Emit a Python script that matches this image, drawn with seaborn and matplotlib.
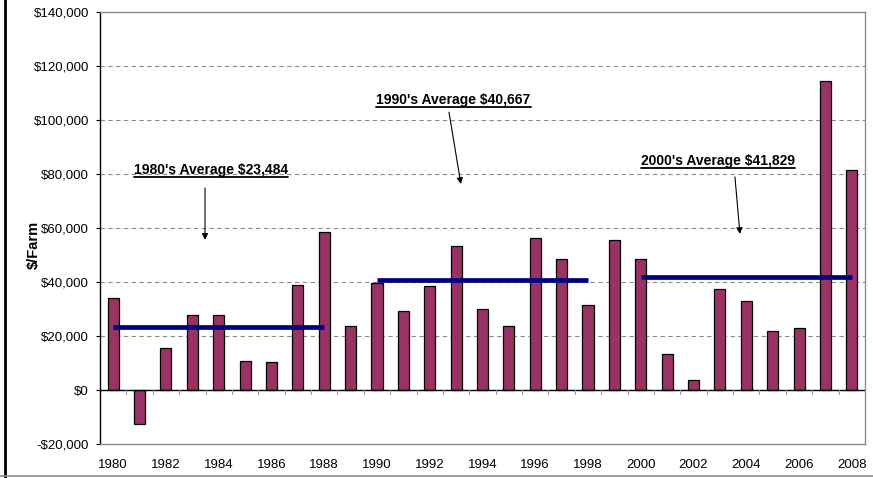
import pandas as pd
import matplotlib
matplotlib.use("Agg")
import matplotlib.pyplot as plt
import matplotlib.ticker as mticker
from matplotlib.lines import Line2D
import seaborn as sns

# Net farm income per farm
years = list(range(1980, 2009))
income = [34000, -12500, 15700, 27600, 27600, 10800, 10400, 38800, 58400, 23800,
          39700, 29200, 38600, 53500, 30100, 23800, 56200, 48700, 31400, 55700,
          48700, 13400, 3700, 37400, 32800, 22000, 22800, 114500, 81500]

decades = ["1980's", "1990's", "2000's"]
decade_avg = [23484, 40667, 41829]
decade_span = [(1980, 1988), (1990, 1998), (2000, 2008)]

df = pd.DataFrame({"year": [str(y) for y in years], "income": income})

sns.set_style("white")
plt.rcParams["font.family"] = ["Liberation Sans", "DejaVu Sans"]
plt.rcParams.update({"text.color": "black", "axes.labelcolor": "black",
                     "xtick.color": "black", "ytick.color": "black"})

fig = plt.figure(figsize=(8.73, 4.78), dpi=100)
ax = fig.add_axes([100 / 873, 1 - 444 / 478, 765 / 873, 432 / 478])

sns.barplot(data=df, x="year", y="income", color="#993366", edgecolor="black",
            linewidth=0.9, width=0.42, saturation=1, ax=ax)

ax.set_xlim(-0.5, len(years) - 0.5)
ax.set_ylim(-20000, 140000)
ax.yaxis.set_major_locator(mticker.MultipleLocator(20000))
ax.yaxis.set_major_formatter(mticker.FuncFormatter(
    lambda v, _: ("-$" if v < 0 else "$") + f"{abs(v):,.0f}"))

# dashed gridlines
for v in range(20000, 140001, 20000):
    ax.axhline(v, color="#8c8c8c", lw=0.8, ls=(0, (4, 3)), zorder=0)
ax.axhline(0, color="black", lw=1.0, zorder=3)
# category tick marks on the zero line
for i in range(len(years) - 1):
    ax.plot([i + 0.5, i + 0.5], [0, -1500], color="#999999", lw=0.8, zorder=3)

# decade averages
for (y0, y1), avg in zip(decade_span, decade_avg):
    ax.hlines(avg, years.index(y0), years.index(y1), color="#000080", lw=3.4, zorder=4)

# x labels every other year
ax.set_xticks(range(0, len(years), 2))
ax.set_xticklabels([str(y) for y in years[::2]])
ax.tick_params(axis="x", length=0, pad=11, labelsize=9.5)
ax.tick_params(axis="y", length=3, width=0.8, color="black", direction="out",
               left=True, labelsize=9.5, pad=5)
ax.set_xlabel("")
ax.set_ylabel("$/Farm", fontsize=10.5, fontweight="bold")
ax.yaxis.set_label_coords(-0.078, 0.46)

for side in ["top", "right", "bottom"]:
    ax.spines[side].set_color("#8c8c8c")
    ax.spines[side].set_linewidth(1.0)
ax.spines["left"].set_color("black")
ax.spines["left"].set_linewidth(1.0)

# annotations with arrows
labels = [f"{d} Average ${a:,}" for d, a in zip(decades, decade_avg)]
text_pos = [(3.71, 81500), (12.9, 107300), (22.93, 84800)]
arrow_start = [(3.48, 74800), (12.73, 102900), (23.57, 78900)]
arrow_end = [(3.48, 55600), (13.18, 76300), (23.76, 57800)]
texts = []
for lab, tp, a0, a1 in zip(labels, text_pos, arrow_start, arrow_end):
    t = ax.text(tp[0], tp[1], lab, ha="center", va="center", fontsize=10,
                fontweight="bold", zorder=5)
    texts.append(t)
    ax.annotate("", xy=a1, xytext=a0,
                arrowprops=dict(arrowstyle="-|>", color="black", lw=0.8,
                                mutation_scale=9, shrinkA=0, shrinkB=0))

# underline the annotation texts
fig.canvas.draw()
renderer = fig.canvas.get_renderer()
inv = fig.transFigure.inverted()
for t in texts:
    bb = t.get_window_extent(renderer)
    (x0, y0), (x1, _) = inv.transform([(bb.x0, bb.y0), (bb.x1, bb.y1)])
    fig.add_artist(Line2D([x0, x1], [y0, y0], color="black", lw=1.3))

# outer chart border (left and bottom visible)
fig.add_artist(Line2D([5 / 873, 5 / 873], [0, 1], color="black", lw=2.0))
fig.add_artist(Line2D([0, 1], [2 / 478, 2 / 478], color="#8c8c8c", lw=1.2))

fig.savefig("out.png", dpi=100)
